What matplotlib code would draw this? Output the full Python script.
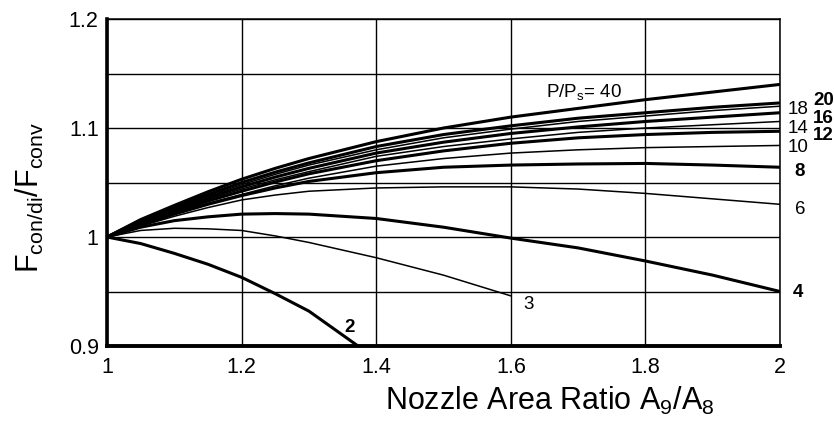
import matplotlib
matplotlib.use('Agg')
import matplotlib.pyplot as plt
from matplotlib.ticker import FixedLocator, FuncFormatter

plt.rcParams['font.family'] = ['Liberation Sans', 'DejaVu Sans']
plt.rcParams['mathtext.fontset'] = 'custom'
plt.rcParams['mathtext.rm'] = 'Liberation Sans'
plt.rcParams['mathtext.it'] = 'Liberation Sans:italic'
plt.rcParams['mathtext.bf'] = 'Liberation Sans:bold'

# values (nozzle area ratio vs thrust ratio)
x_full = [1.0, 1.05, 1.1, 1.15, 1.2, 1.25, 1.3, 1.4, 1.5, 1.6, 1.7, 1.8, 1.9, 2.0]
f40 = [1.0, 1.016, 1.029, 1.0415, 1.053, 1.063, 1.072, 1.0875, 1.100, 1.110, 1.118, 1.126, 1.133, 1.140]
f20 = [1.0, 1.015, 1.027, 1.039, 1.050, 1.0595, 1.068, 1.083, 1.094, 1.102, 1.109, 1.114, 1.119, 1.123]
f18 = [1.0, 1.014, 1.026, 1.0375, 1.048, 1.0575, 1.066, 1.080, 1.091, 1.099, 1.106, 1.111, 1.116, 1.120]
f16 = [1.0, 1.014, 1.025, 1.036, 1.046, 1.055, 1.063, 1.077, 1.087, 1.095, 1.101, 1.106, 1.110, 1.114]
f14 = [1.0, 1.013, 1.024, 1.0345, 1.044, 1.0525, 1.060, 1.074, 1.083, 1.090, 1.096, 1.100, 1.103, 1.106]
f12 = [1.0, 1.013, 1.023, 1.033, 1.042, 1.0505, 1.058, 1.070, 1.079, 1.086, 1.091, 1.094, 1.096, 1.097]
f10 = [1.0, 1.012, 1.022, 1.031, 1.039, 1.047, 1.054, 1.065, 1.072, 1.077, 1.080, 1.082, 1.083, 1.084]
f8 = [1.0, 1.011, 1.021, 1.030, 1.038, 1.045, 1.051, 1.059, 1.064, 1.066, 1.067, 1.0675, 1.066, 1.064]
f6 = [1.0, 1.010, 1.019, 1.027, 1.034, 1.0385, 1.042, 1.045, 1.046, 1.046, 1.044, 1.040, 1.035, 1.030]
f4 = [1.0, 1.009, 1.015, 1.0185, 1.021, 1.0215, 1.021, 1.017, 1.009, 0.999, 0.990, 0.978, 0.965, 0.950]
x_3 = [1.0, 1.05, 1.1, 1.15, 1.2, 1.25, 1.3, 1.4, 1.5, 1.6]
f3 = [1.0, 1.006, 1.008, 1.0075, 1.006, 1.001, 0.995, 0.981, 0.965, 0.946]
x_2 = [1.0, 1.05, 1.1, 1.15, 1.2, 1.25, 1.3, 1.373]
f2 = [1.0, 0.994, 0.985, 0.975, 0.963, 0.948, 0.932, 0.9]

x_ticks = [1, 1.2, 1.4, 1.6, 1.8, 2]
y_ticks = [0.9, 1.0, 1.1, 1.2]
y_grid = [0.95, 1.05, 1.15]

fig = plt.figure(figsize=(8.34, 4.33), dpi=100)
ax = fig.add_axes([0.1283, 0.2009, 0.807, 0.7552])

thick = 2.2
thin = 1.1
ax.plot(x_full, f40, color='black', lw=thick)
ax.plot(x_full, f20, color='black', lw=thick)
ax.plot(x_full, f18, color='black', lw=thin)
ax.plot(x_full, f16, color='black', lw=thick)
ax.plot(x_full, f14, color='black', lw=thin)
ax.plot(x_full, f12, color='black', lw=thick)
ax.plot(x_full, f10, color='black', lw=thin)
ax.plot(x_full, f8, color='black', lw=thick)
ax.plot(x_full, f6, color='black', lw=thin)
ax.plot(x_full, f4, color='black', lw=thick)
ax.plot(x_3, f3, color='black', lw=thin)
ax.plot(x_2, f2, color='black', lw=thick)

ax.set_xlim(1, 2)
ax.set_ylim(0.9, 1.2)
ax.xaxis.set_major_locator(FixedLocator(x_ticks))
ax.yaxis.set_major_locator(FixedLocator(y_ticks))
ax.yaxis.set_minor_locator(FixedLocator(y_grid))
fmt = FuncFormatter(lambda v, p: f'{v:g}')
ax.xaxis.set_major_formatter(fmt)
ax.yaxis.set_major_formatter(fmt)
ax.tick_params(axis='both', which='both', length=0, labelsize=15.5)
ax.tick_params(axis='x', pad=8)
ax.tick_params(axis='y', pad=6)
ax.grid(True, which='both', color='black', lw=1.0)
ax.set_axisbelow(True)

ax.spines['left'].set_linewidth(2.6)
ax.spines['bottom'].set_linewidth(2.8)
ax.spines['top'].set_linewidth(1.1)
ax.spines['right'].set_linewidth(1.1)

lab = dict(fontsize=13.5, va='center', clip_on=False)
ax.text(2.049, 1.125, '20', ha='left', fontweight='bold', **lab)
ax.text(2.011, 1.117, '18', ha='left', **lab)
ax.text(2.049, 1.1085, '16', ha='left', fontweight='bold', **lab)
ax.text(2.011, 1.100, '14', ha='left', **lab)
ax.text(2.049, 1.093, '12', ha='left', fontweight='bold', **lab)
ax.text(2.011, 1.082, '10', ha='left', **lab)
ax.text(2.021, 1.060, '8', ha='left', fontweight='bold', **lab)
ax.text(2.022, 1.025, '6', ha='left', **lab)
ax.text(2.019, 0.949, '4', ha='left', fontweight='bold', **lab)
ax.text(1.626, 0.938, '3', ha='center', **lab)
ax.text(1.361, 0.917, '2', ha='center', fontweight='bold', **lab)
ax.text(1.652, 1.133, r'P/P$_\mathregular{s}$= 40', ha='left', **lab)

fig.text(550 / 834, 1 - 401 / 433, r'Nozzle Area Ratio A$_\mathregular{9}$/A$_\mathregular{8}$',
         fontsize=22, ha='center', va='center')
fig.text(30 / 834, 1 - 197 / 433, r'F$_\mathregular{con/di}$/F$_\mathregular{conv}$',
         fontsize=22, ha='center', va='center', rotation=90)

fig.savefig('out.png', dpi=100)
